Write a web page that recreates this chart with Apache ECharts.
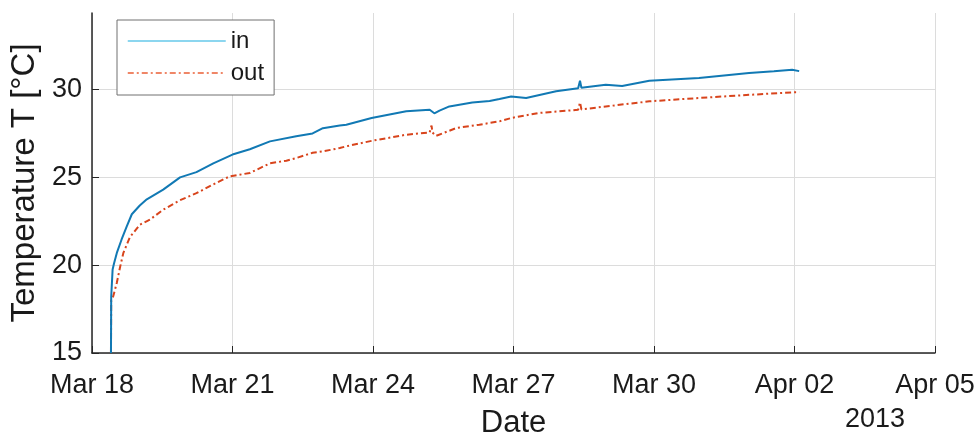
<!DOCTYPE html>
<html>
<head>
<meta charset="utf-8">
<script src="https://cdn.jsdelivr.net/npm/echarts@6/dist/echarts.min.js"></script>
<style>
html,body{margin:0;padding:0;background:#fff;}
#chart{width:978px;height:434px;}
</style>
</head>
<body>
<div id="chart"></div>
<script>
// Days since Mar 18 2013 00:00
const xTickLabels = ["Mar 18", "Mar 21", "Mar 24", "Mar 27", "Mar 30", "Apr 02", "Apr 05"];
const yearLabel = "2013";

const dayIn = [0.405, 0.41, 0.44, 0.47, 0.53, 0.63, 0.74, 0.85, 1.02, 1.17, 1.52, 1.88, 2.23, 2.59, 3.0, 3.37, 3.80, 4.36, 4.71, 4.93, 5.29, 5.43, 5.97, 6.71, 7.21, 7.31, 7.42, 7.63, 8.12, 8.49, 8.70, 8.95, 9.27, 9.91, 10.38, 10.42, 10.45, 10.97, 11.32, 11.90, 12.96, 14.03, 14.56, 14.95, 15.10];
const tempIn = [15.0, 18.2, 19.75, 20.1, 20.7, 21.45, 22.2, 22.9, 23.4, 23.75, 24.3, 25.0, 25.3, 25.8, 26.3, 26.6, 27.05, 27.34, 27.5, 27.8, 27.95, 28.0, 28.38, 28.76, 28.85, 28.65, 28.8, 29.04, 29.27, 29.35, 29.46, 29.6, 29.52, 29.9, 30.08, 30.5, 30.1, 30.28, 30.2, 30.5, 30.66, 30.95, 31.05, 31.13, 31.05];

const dayOut = [0.405, 0.41, 0.45, 0.53, 0.60, 0.67, 0.81, 1.02, 1.24, 1.52, 1.88, 2.23, 2.59, 2.94, 3.37, 3.80, 4.15, 4.36, 4.71, 4.93, 5.29, 5.43, 5.97, 6.71, 7.21, 7.25, 7.27, 7.35, 7.78, 8.27, 8.70, 8.95, 9.55, 10.38, 10.42, 10.45, 10.97, 11.90, 12.96, 14.03, 14.95, 15.10];
const tempOut = [15.0, 18.0, 18.2, 19.0, 19.9, 20.7, 21.6, 22.3, 22.6, 23.16, 23.7, 24.1, 24.6, 25.06, 25.25, 25.8, 25.95, 26.1, 26.4, 26.48, 26.67, 26.77, 27.08, 27.43, 27.56, 27.95, 27.55, 27.37, 27.81, 28.0, 28.19, 28.38, 28.67, 28.85, 29.27, 28.87, 29.04, 29.33, 29.52, 29.7, 29.84, 29.85];

const yTicks = [15, 20, 25, 30];

const zip = (a, b) => a.map((v, i) => [v, b[i]]);
const FONT = 'Liberation Sans';
const TXT = '#1a1a1a';

const chart = echarts.init(document.getElementById('chart'), null, {renderer: 'canvas'});
chart.setOption({
  animation: false,
  backgroundColor: '#fff',
  grid: {left: 92, right: 43, top: 13, bottom: 81, containLabel: false, outerBoundsMode: 'none'},
  legend: {
    show: true,
    orient: 'vertical',
    left: 117, top: 20,
    padding: [9, 10, 10, 10],
    itemWidth: 98, itemHeight: 24, itemGap: 8,
    borderColor: '#707070', borderWidth: 1,
    backgroundColor: '#fff',
    textStyle: {fontFamily: FONT, fontSize: 24, color: TXT},
    data: [
      {name: 'in', itemStyle: {opacity: 0}, lineStyle: {color: '#66c8ea', width: 1.5}},
      {name: 'out', itemStyle: {opacity: 0}, lineStyle: {color: '#ea5f36', width: 1.5, type: [6, 3, 2, 3]}}
    ]
  },
  xAxis: {
    type: 'value', min: 0, max: 18, interval: 3,
    axisLine: {lineStyle: {color: '#262626', width: 1.5}},
    axisTick: {inside: true, length: 7, lineStyle: {color: '#262626'}},
    axisLabel: {
      fontFamily: FONT, fontSize: 27, color: TXT, margin: 19,
      formatter: v => xTickLabels[Math.round(v / 3)] || ''
    },
    splitLine: {show: true, lineStyle: {color: '#dcdcdc', width: 1}},
    name: 'Date', nameLocation: 'middle', nameGap: 55,
    nameTextStyle: {fontFamily: FONT, fontSize: 31, color: TXT}
  },
  yAxis: {
    type: 'value', min: 15, max: 34.36, interval: 5,
    axisLine: {show: true, lineStyle: {color: '#262626', width: 1.5}},
    axisTick: {show: true, inside: true, length: 7, lineStyle: {color: '#262626'}},
    axisLabel: {
      fontFamily: FONT, fontSize: 27, color: TXT, margin: 10, showMaxLabel: false,
      formatter: v => (yTicks.indexOf(v) >= 0 ? String(v) : '')
    },
    splitLine: {show: true, showMaxLine: false,
      lineStyle: {color: ['#dcdcdc', '#dcdcdc', '#dcdcdc', '#dcdcdc', 'rgba(0,0,0,0)'], width: 1}},
    name: 'Temperature T [°C]', nameLocation: 'middle', nameGap: 48,
    nameTextStyle: {fontFamily: FONT, fontSize: 33, color: TXT}
  },
  graphic: [{
    type: 'text', left: 845, top: 406,
    style: {text: yearLabel, font: '27px "Liberation Sans"', fill: TXT}
  }],
  series: [
    {
      name: 'in', type: 'line', data: zip(dayIn, tempIn),
      showSymbol: false, symbol: 'none', z: 3,
      lineStyle: {color: '#1179b4', width: 2},
      itemStyle: {color: '#1179b4'}
    },
    {
      name: 'out', type: 'line', data: zip(dayOut, tempOut),
      showSymbol: false, symbol: 'none', z: 2,
      lineStyle: {color: '#d8441c', width: 2, type: [6, 3, 2, 3]},
      itemStyle: {color: '#d8441c'}
    }
  ]
});
</script>
</body>
</html>
